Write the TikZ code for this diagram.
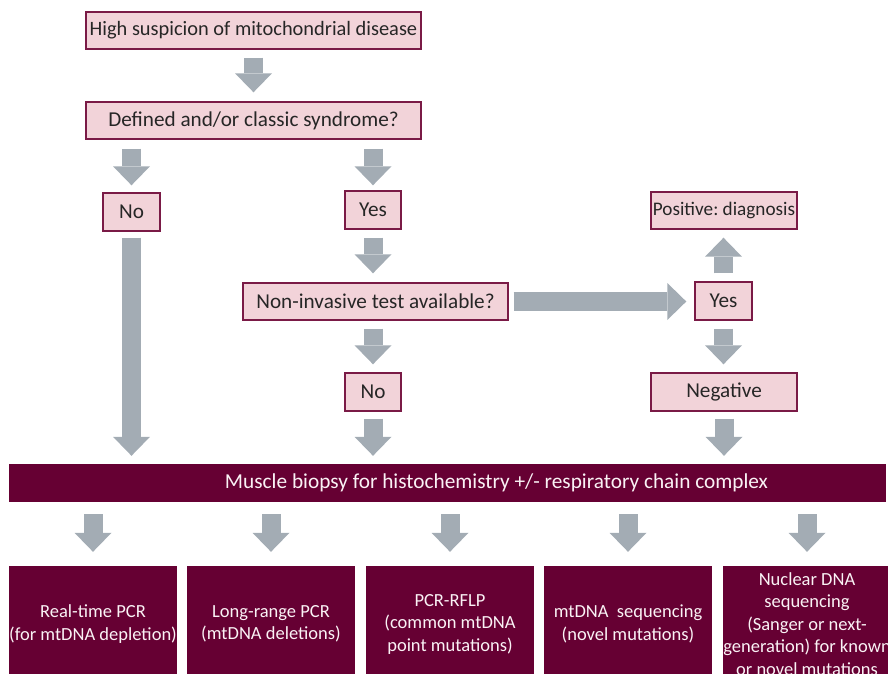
\documentclass[tikz,border=0pt]{standalone}
\usepackage{fontspec}
\setmainfont{Carlito}
\usetikzlibrary{arrows.meta,calc}
\definecolor{pinkfill}{RGB}{242,211,217}
\definecolor{pinkline}{RGB}{122,26,70}
\definecolor{darkfill}{RGB}{102,0,51}
\definecolor{arrowgrey}{RGB}{163,172,180}
\definecolor{textdark}{RGB}{38,38,38}
\definecolor{textlight}{RGB}{250,242,245}
\tikzset{
  pinkbox/.style={draw=pinkline, line width=1.4pt, fill=pinkfill, inner sep=0pt,
    text=textdark, font=\fontsize{21.2}{24}\selectfont, align=center},
  darkbox/.style={fill=darkfill, inner sep=0pt},
  boxtext/.style={inner sep=0pt, text=textlight, align=center,
    font=\fontsize{18.5}{22.5}\selectfont},
  barrow/.style={draw=arrowgrey, line width=19pt,
    -{Triangle[width=37pt,length=19pt,line width=0pt]}},
}
\begin{document}
\frenchspacing
\begin{tikzpicture}[x=1pt,y=-1pt]
\useasboundingbox (0,0) rectangle (888,674);
% pink boxes
\node[pinkbox, font=\fontsize{20.4}{24}\selectfont, minimum width=335pt, minimum height=37pt] (top) at (253.5,30.5) {High suspicion of mitochondrial disease};
\node[pinkbox, minimum width=335pt, minimum height=37pt] (defined) at (253.5,120.5) {Defined and/or classic syndrome?};
\node[pinkbox, minimum width=57pt, minimum height=38pt] (no1) at (131.5,212) {No};
\node[pinkbox, minimum width=56pt, minimum height=38pt] (yes1) at (373,210) {Yes};
\node[pinkbox, minimum width=265pt, minimum height=37pt] (noninv) at (375.5,301.5) {Non-invasive test available?};
\node[pinkbox, minimum width=56pt, minimum height=38pt] (no2) at (373,392) {No};
\node[pinkbox, font=\fontsize{19.2}{24}\selectfont, minimum width=146pt, minimum height=37pt] (positive) at (724,210.5) {Positive: diagnosis};
\node[pinkbox, minimum width=57pt, minimum height=38pt] (yes2) at (723.5,301) {Yes};
\node[pinkbox, minimum width=146pt, minimum height=38pt] (negative) at (724,392) {Negative};
% muscle bar
\node[darkbox, minimum width=877pt, minimum height=38pt] (muscle) at (447.5,483) {};
\node[boxtext, font=\fontsize{21.3}{24}\selectfont] (muscletext) at ([xshift=49pt]muscle.center) {Muscle biopsy for histochemistry +/- respiratory chain complex};
% bottom boxes
\node[darkbox, minimum width=168pt, minimum height=114pt] (b1) at (93,623) {};
\node[darkbox, minimum width=168pt, minimum height=114pt] (b2) at (271,623) {};
\node[darkbox, minimum width=168pt, minimum height=114pt] (b3) at (450,623) {};
\node[darkbox, minimum width=168pt, minimum height=114pt] (b4) at (628,623) {};
\node[darkbox, minimum width=168pt, minimum height=114pt] (b5) at (807,623) {};
\node[boxtext] (t1) at ([yshift=-1pt]b1.center) {Real-time PCR\\(for mtDNA depletion)};
\node[boxtext] (t2) at ([yshift=-1pt]b2.center) {Long-range PCR\\(mtDNA deletions)};
\node[boxtext] (t3) at ([yshift=-1pt]b3.center) {PCR-RFLP\\(common mtDNA\\point mutations)};
\node[boxtext] (t4) at ([yshift=-1pt]b4.center) {mtDNA\ \ sequencing\\(novel mutations)};
\node[boxtext] (t5) at ([yshift=-1pt]b5.center) {Nuclear DNA\\sequencing\\(Sanger or next-\\generation) for known\\or novel mutations};
% arrows
\draw[barrow, shorten <=8pt, shorten >=9pt] (top.south) -- (defined.north);
\draw[barrow, shorten <=9pt, shorten >=7pt] (defined.south -| no1) -- (no1.north);
\draw[barrow, shorten <=9pt, shorten >=5pt] (defined.south -| yes1) -- (yes1.north);
\draw[barrow, shorten <=6pt, shorten >=8pt] (no1.south) -- (no1 |- muscle.north);
\draw[barrow, shorten <=8pt, shorten >=9pt] (yes1.south) -- (yes1 |- noninv.north);
\draw[barrow, shorten <=8pt, shorten >=8pt] (noninv.south -| no2) -- (no2.north);
\draw[barrow, shorten <=7pt, shorten >=8pt] (no2.south) -- (no2 |- muscle.north);
\draw[barrow, shorten <=5pt, shorten >=8pt] (noninv.east) -- (noninv.east -| yes2.west);
\draw[barrow, shorten <=8pt, shorten >=8pt] (yes2.north) -- (yes2 |- positive.south);
\draw[barrow, shorten <=8pt, shorten >=8pt] (yes2.south) -- (yes2 |- negative.north);
\draw[barrow, shorten <=7pt, shorten >=8pt] (negative.south) -- (negative |- muscle.north);
\foreach \b in {b1,b2,b3,b4,b5}{
  \draw[barrow, shorten <=12pt, shorten >=14pt] (muscle.south -| \b) -- (\b.north);
}
\end{tikzpicture}
\end{document}
